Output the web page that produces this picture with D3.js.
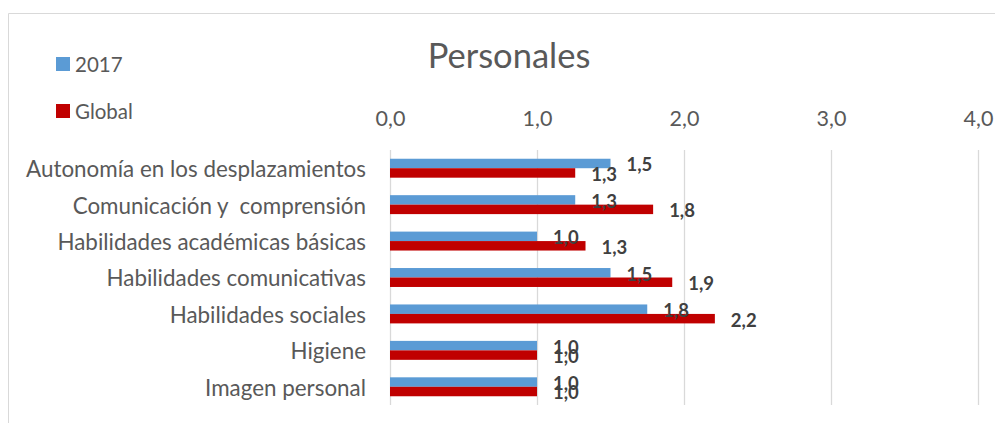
<!DOCTYPE html>
<html>
<head>
<meta charset="utf-8">
<script src="https://cdn.jsdelivr.net/npm/d3@7"></script>
<style>
  body { margin: 0; background: #fff; }
  svg { display: block; font-family: Lato, "Open Sans", sans-serif; }
</style>
</head>
<body>
<svg id="grafico" width="995" height="423"></svg>
<script>
// datos del gráfico
const categorias = [
  "Autonomía en los desplazamientos",
  "Comunicación y  comprensión",
  "Habilidades académicas básicas",
  "Habilidades comunicativas",
  "Habilidades sociales",
  "Higiene",
  "Imagen personal"
];
const series = ["2017", "Global"];
const valores2017 = [1.5, 1.26, 1.0, 1.5, 1.75, 1.0, 1.0];
const valoresGlobal = [1.26, 1.79, 1.33, 1.92, 2.21, 1.0, 1.0];
const ticks = [0, 1, 2, 3, 4];
const colores = ["#5B9BD5", "#C00000"];

const svg = d3.select("#grafico");

// marco
svg.append("path")
  .attr("d", "M8.5,423 V13.5 H995")
  .attr("fill", "none")
  .attr("stroke", "#d9d9d9")
  .attr("stroke-width", 1);

const x = d3.scaleLinear().domain([0, 4]).range([390, 978]);
const y = d3.scaleBand().domain(categorias).range([150, 405])
  .paddingInner(0.48).paddingOuter(0.24);
const ySub = d3.scaleBand().domain(series).range([0, y.bandwidth()]);

const formato = v => d3.format(".1f")(v).replace(".", ",");

// líneas de cuadrícula
svg.append("g").selectAll("line")
  .data(ticks)
  .join("line")
    .attr("x1", d => Math.round(x(d)) + 0.5)
    .attr("x2", d => Math.round(x(d)) + 0.5)
    .attr("y1", 150)
    .attr("y2", 405)
    .attr("stroke", "#d9d9d9")
    .attr("stroke-width", 1.3);

// eje superior
const eje = svg.append("g")
  .attr("transform", "translate(0,150)")
  .call(d3.axisTop(x).tickValues(ticks).tickFormat(formato).tickSize(0).tickPadding(24));
eje.select(".domain").remove();
eje.selectAll("text")
  .attr("fill", "#595959")
  .style("font-size", "21.5px")
  .style("font-family", "Lato, 'Open Sans', sans-serif");

// etiquetas de categorías (el doble espacio se conserva)
const ejeY = svg.append("g")
  .attr("transform", "translate(390,0)")
  .call(d3.axisLeft(y).tickSize(0).tickPadding(24));
ejeY.select(".domain").remove();
ejeY.selectAll("text")
  .attr("fill", "#595959")
  .attr("dy", "0.4em")
  .style("white-space", "pre")
  .style("font-size", "22.4px")
  .style("font-family", "Lato, 'Open Sans', sans-serif");

// barras
const filas = categorias.map((c, i) => ({
  categoria: c,
  items: [
    { serie: series[0], valor: valores2017[i] },
    { serie: series[1], valor: valoresGlobal[i] }
  ]
}));

const grupos = svg.append("g").selectAll("g")
  .data(filas)
  .join("g")
    .attr("transform", d => `translate(0,${y(d.categoria)})`);

grupos.selectAll("rect")
  .data(d => d.items)
  .join("rect")
    .attr("x", x(0))
    .attr("y", d => ySub(d.serie))
    .attr("width", d => x(d.valor) - x(0))
    .attr("height", ySub.bandwidth())
    .attr("fill", (d, i) => colores[i]);

grupos.selectAll("text")
  .data(d => d.items)
  .join("text")
    .attr("x", d => x(d.valor) + 16)
    .attr("y", d => ySub(d.serie) + ySub.bandwidth() / 2 + 1.5)
    .attr("dy", "0.35em")
    .attr("fill", "#404040")
    .style("font-size", "18.5px")
    .style("font-weight", "bold")
    .text(d => formato(d.valor));

// título
svg.append("text")
  .attr("x", 509)
  .attr("y", 68)
  .attr("text-anchor", "middle")
  .attr("fill", "#595959")
  .style("font-size", "34.5px")
  .text("Personales");

// leyenda
const leyenda = svg.append("g").selectAll("g")
  .data(series)
  .join("g")
    .attr("transform", (d, i) => `translate(56,${57 + i * 47})`);
leyenda.append("rect")
  .attr("width", 14).attr("height", 14)
  .attr("fill", (d, i) => colores[i]);
leyenda.append("text")
  .attr("x", 19).attr("y", 14.5)
  .attr("fill", "#595959")
  .style("font-size", "20.5px")
  .text(d => d);
</script>
</body>
</html>
